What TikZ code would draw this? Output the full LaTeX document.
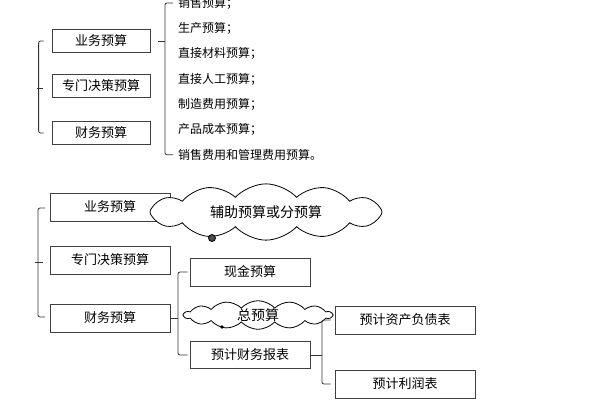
\documentclass[tikz,border=0pt]{standalone}
\usepackage{fontspec}
\newfontfamily\cjk{Noto Sans CJK SC}
\usetikzlibrary{shapes.symbols}
\begin{document}
\begin{tikzpicture}[x=1pt,y=-1pt,
  bx/.style={draw,thick,draw=black!75,minimum height=#1,inner sep=0pt,font=\cjk\fontsize{13}{13}\selectfont},
  bx/.default=23,
  lst/.style={anchor=west,inner sep=0pt,font=\cjk\fontsize{12}{12}\selectfont},
  br/.style={thick,black!80,rounded corners=2pt},
  cl/.style={cloud,draw,thick,fill=white,cloud puffs=12,cloud puff arc=95,aspect=4,inner sep=0pt,font=\cjk\fontsize{14}{14}\selectfont}]
\useasboundingbox (0,0) rectangle (600,400);
% top
\node[bx,minimum width=98] (a1) at (101,41) {业务预算};
\node[bx,minimum width=98] (a2) at (101,86) {专门决策预算};
\node[bx,minimum width=98] (a3) at (101,133) {财务预算};
\draw[br] ([xshift=-8]a1.west) -- ++(-5,0) |- ([xshift=-8]a3.west);
\draw[thick,black!80] (37,88) -- (43,88);
\foreach \t [count=\i] in {销售预算；,生产预算；,直接材料预算；,直接人工预算；,制造费用预算；,产品成本预算；,销售费用和管理费用预算。}
  \node[lst] (t\i) at (178,{3+(\i-1)*25.3}) {\t};
\draw[br] ([xshift=-5]t1.west) -- ++(-8,0) |- ([xshift=-5]t7.west);
\draw[thick,black!80] (158,41) -- (165,41);
% bottom
\node[bx=28,minimum width=120] (b1) at (110,207) {业务预算};
\node[bx=28,minimum width=120] (b2) at (110,260) {专门决策预算};
\node[bx=28,minimum width=120] (b3) at (110,318) {财务预算};
\draw[br] (45,208) -- (38,208) |- (45,317);
\draw[thick,black!80] (35,262) -- (43,262);
\node[cl,minimum width=232,minimum height=54] (c1) at (266,212) {辅助预算或分预算};
\draw[thick,fill=black!70] (212,238) circle (3.5);
\node[bx=28,minimum width=120] (b4) at (250,272) {现金预算};
\node[bx=27,minimum width=120] (b5) at (250,355) {预计财务报表};
\node[cl,minimum width=148,minimum height=26,cloud puffs=14,aspect=6] (c2) at (258,315) {总预算};
\fill (222,327) circle (1.8);
\draw[br] (b4.west)++(-2,0) -- (178,272) |- ([xshift=-2]b5.west);
\draw[thick,black!80] (b3.east) -- (178,318);
\node[bx=28,minimum width=140] (b6) at (405,320) {预计资产负债表};
\node[bx=28,minimum width=140] (b7) at (405,384) {预计利润表};
\draw[br] ([xshift=-4]b6.west) -- (322,320) |- ([xshift=-4]b7.west);
\draw[thick,black!80] (b5.east) -- (322,355);
\end{tikzpicture}
\end{document}
